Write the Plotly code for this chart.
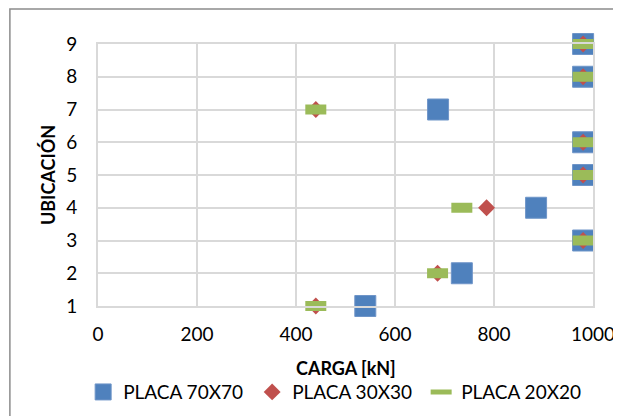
import plotly.graph_objects as go

# Ubicación (1-9) y carga [kN] por tipo de placa
ubicacion = [1, 2, 3, 4, 5, 6, 7, 8, 9]
carga_70x70 = [540, 735, 980, 885, 980, 980, 687, 980, 980]
carga_30x30 = [440, 686, 980, 785, 980, 980, 440, 980, 980]
carga_20x20 = [440, 686, 980, 735, 980, 980, 440, 980, 980]

FONT = "Lato"

fig = go.Figure()

fig.add_trace(go.Scatter(
    x=carga_70x70, y=ubicacion, mode="markers", name="PLACA 70X70",
    marker=dict(symbol="square", size=21, color="#4f81bd",
                line=dict(color="#6f95c8", width=1)),
    cliponaxis=False,
))
fig.add_trace(go.Scatter(
    x=carga_30x30, y=ubicacion, mode="markers", name="PLACA 30X30",
    marker=dict(symbol="diamond", size=13, color="#c0504d", line=dict(width=0)),
    cliponaxis=False,
))
fig.add_trace(go.Scatter(
    x=carga_20x20, y=ubicacion, mode="markers", name="PLACA 20X20",
    marker=dict(symbol="line-ew", size=15, color="#9bbb59",
                line=dict(color="#9bbb59", width=10)),
    cliponaxis=False,
))

# the page body adds an 8px offset, so margins are shifted to compensate
fig.update_layout(
    width=621, height=416,
    margin=dict(l=90, r=36, t=36, b=118),
    paper_bgcolor="white", plot_bgcolor="white",
    font=dict(family=FONT, size=19, color="black"),
    legend=dict(orientation="h", x=-0.03, xanchor="left", y=-0.256, yanchor="top",
                font=dict(size=19), itemwidth=30, entrywidth=124),
    shapes=[dict(type="rect", xref="paper", yref="paper",
                 x0=-0.178, x1=2, y0=-2, y1=1.134,
                 line=dict(color="#8c8c8c", width=1.5))],
    annotations=[dict(text="<b>CARGA [kN]</b>", xref="paper", yref="paper",
                      x=0.5, y=-0.237, xanchor="center", yanchor="middle",
                      showarrow=False, font=dict(size=18))],
)

fig.update_xaxes(
    range=[0, 1000], tickvals=[0, 200, 400, 600, 800, 1000],
    showgrid=True, gridcolor="#d9d9d9", gridwidth=2,
    showline=True, linecolor="#d9d9d9", linewidth=2, mirror=True,
    zeroline=False, ticks="", ticklabelstandoff=10,
)
fig.update_yaxes(
    range=[1, 9], tickvals=ubicacion,
    showgrid=True, gridcolor="#d9d9d9", gridwidth=2,
    showline=True, linecolor="#d9d9d9", linewidth=2, mirror=True,
    zeroline=False, ticks="", ticklabelstandoff=15,
    title=dict(text="<b>UBICACIÓN</b>", font=dict(size=18), standoff=6),
)

fig.write_html("out.html")
